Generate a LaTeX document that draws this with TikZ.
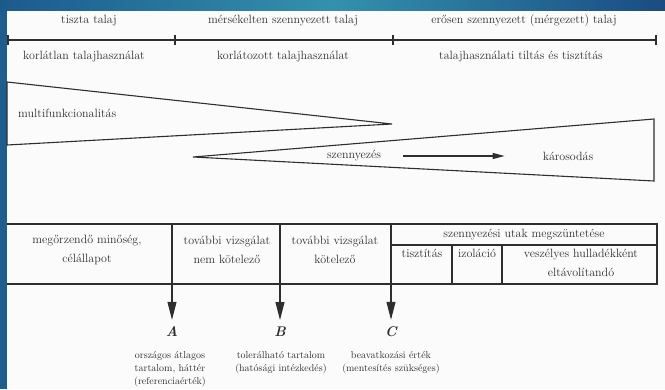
\documentclass[tikz,border=0pt]{standalone}
\usetikzlibrary{arrows.meta}
\definecolor{bgA}{HTML}{1C5A8C}
\definecolor{bgB}{HTML}{3391AE}
\definecolor{bgC}{HTML}{1A4C82}
\definecolor{strip}{HTML}{1F5D8F}
\definecolor{ink}{HTML}{2E2E2E}
\definecolor{paper}{HTML}{FBFBFB}
\begin{document}
\begin{tikzpicture}[x=1pt,y=-1pt,
  txt/.style={text=ink,font=\fontsize{12}{19}\selectfont,inner sep=0pt,align=center},
  small/.style={text=ink,font=\fontsize{10}{13}\selectfont,inner sep=0pt,align=center},
  letter/.style={text=ink,font=\fontsize{14}{14}\selectfont\bfseries\itshape,inner sep=0pt},
  ln/.style={draw=ink,line width=1.1pt},
  bigarrow/.style={ln,-{Triangle[length=18pt,width=9pt]},shorten >=7pt},
  midarrow/.style={ln,-{Triangle[length=12pt,width=6pt]}}]
\useasboundingbox (0,0) rectangle (665,389);
% background
\fill[strip] (0,0) rectangle (665,389);
\shade[left color=bgA,right color=bgC,middle color=bgB] (0,0) rectangle (665,11);
\fill[paper] (7,11) rectangle (665,389);

% top scale
\coordinate (s0) at (8,40);
\coordinate (s1) at (175,40);
\coordinate (s2) at (393,40);
\coordinate (s3) at (656,40);
\draw[ln] (s0) -- (s3);
\foreach \p in {s0,s1,s2,s3} \draw[ln] ([yshift=-5pt]\p) -- ([yshift=5pt]\p);
\node[txt] (t1) at (89,21) {tiszta talaj};
\node[txt] (t2) at (283,21) {mérsékelten szennyezett talaj};
\node[txt] (t3) at (524,21) {erősen szennyezett (mérgezett) talaj};
\node[txt] (b1) at (84,57) {korlátlan talajhasználat};
\node[txt] (b2) at (283,57) {korlátozott talajhasználat};
\node[txt] (b3) at (521,57) {talajhasználati tiltás és tisztítás};

% wedges
\draw[ln] (7,82) -- (392,124) -- (7,145) -- cycle;
\node[txt,anchor=west] (mf) at (18,113) {multifunkcionalitás};
\draw[ln] (654,119) -- (193,157) -- (654,181) -- cycle;
\node[txt] (sz) at (354,156) {szennyezés};
\node[txt] (ka) at (568,156) {károsodás};
\draw[midarrow] ([xshift=22pt]sz.east) -- ([xshift=-38pt]ka.west);

% table
\draw[ln] (7,224) -- (657,224) -- (657,284) -- (7,284);
\draw[ln] (391,245) -- (657,245);
\draw[ln] (452,245) -- (452,284);
\draw[ln] (502,245) -- (502,284);
\node[txt] (c1) at (87,250) {megőrzendő minőség,\\célállapot};
\node[txt] (c2) at (227,250) {további vizsgálat\\nem kötelező};
\node[txt] (c3) at (335,250) {további vizsgálat\\kötelező};
\node[txt] (c4) at (524,235) {szennyezési utak megszüntetése};
\node[txt] (c5) at (422,253) {tisztítás};
\node[txt] (c6) at (477,253) {izoláció};
\node[txt] (c7) at (581,263) {veszélyes hulladékként\\eltávolítandó};

% arrows to thresholds
\coordinate (dA) at (172,224);
\coordinate (dB) at (280,224);
\coordinate (dC) at (391,224);
\node[letter] (A) at (172,332) {A};
\node[letter] (B) at (280,332) {B};
\node[letter] (C) at (391,332) {C};
\draw[bigarrow] (dA) -- (A);
\draw[bigarrow] (dB) -- (B);
\draw[bigarrow] (dC) -- (C);
\node[small,anchor=north] (lA) at (170,351) {országos átlagos\\tartalom, háttér\\(referenciaérték)};
\node[small,anchor=north] (lB) at (281,351) {tolerálható tartalom\\(hatósági intézkedés)};
\node[small,anchor=north] (lC) at (391,351) {beavatkozási érték\\(mentesítés szükséges)};
\end{tikzpicture}
\end{document}
